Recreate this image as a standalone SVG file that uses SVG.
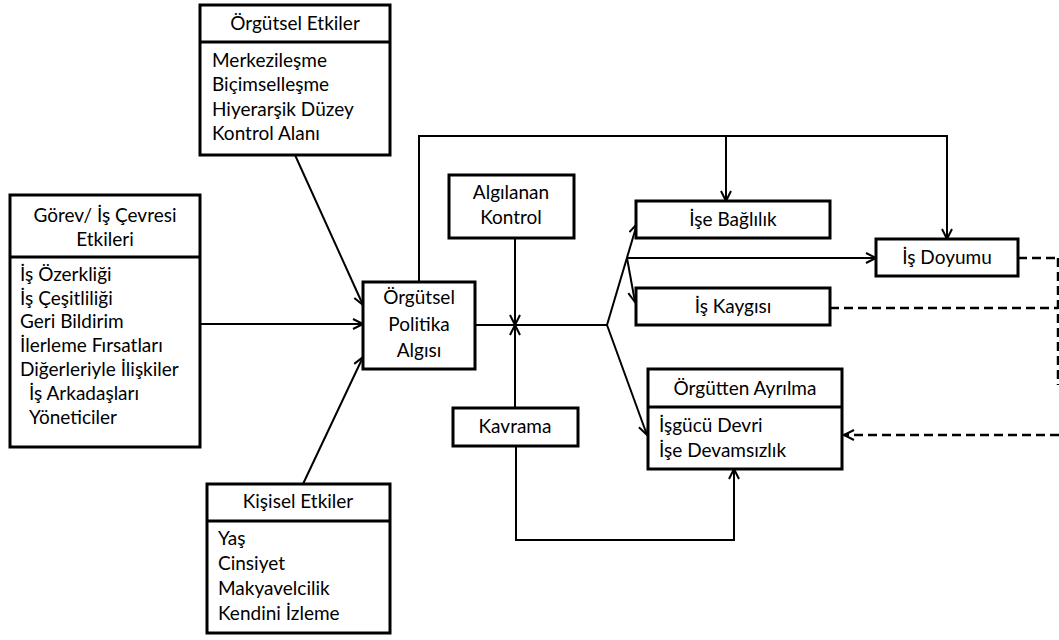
<svg xmlns="http://www.w3.org/2000/svg" width="1059" height="640" viewBox="0 0 1059 640">
<defs>
<marker id="arr" markerUnits="userSpaceOnUse" markerWidth="14" markerHeight="14" refX="11" refY="6" orient="auto">
<path d="M1,1 L11,6 L1,11" fill="none" stroke="#000" stroke-width="2"/>
</marker>
<style>
.box{fill:#fff;stroke:#000;stroke-width:3}
.div{stroke:#000;stroke-width:3}
text{font-family:Lato,"Open Sans","Liberation Sans",sans-serif;font-size:19px;fill:#000}
.c{text-anchor:middle}
.ln{fill:none;stroke:#000;stroke-width:2}
.dash{fill:none;stroke:#000;stroke-width:2.5;stroke-dasharray:9 5}
</style>
</defs>
<rect width="1059" height="640" fill="#fff"/>
<g id="connectors">
<line class="ln" x1="295" y1="155" x2="363" y2="305" marker-end="url(#arr)"/>
<line class="ln" x1="200" y1="324" x2="363" y2="324" marker-end="url(#arr)"/>
<line class="ln" x1="303" y1="484" x2="363" y2="357" marker-end="url(#arr)"/>
<line class="ln" x1="475" y1="325" x2="607" y2="325"/>
<line class="ln" x1="515" y1="238" x2="515" y2="325" marker-end="url(#arr)"/>
<line class="ln" x1="515" y1="408" x2="515" y2="325" marker-end="url(#arr)"/>
<line class="ln" x1="607" y1="325" x2="637" y2="224" marker-end="url(#arr)"/>
<line class="ln" x1="607" y1="325" x2="647" y2="435" marker-end="url(#arr)"/>
<line class="ln" x1="627" y1="258" x2="876" y2="258" marker-end="url(#arr)"/>
<line class="ln" x1="627" y1="258" x2="635" y2="302" marker-end="url(#arr)"/>
<polyline class="ln" points="419,282 419,136 947,136 947,239" marker-end="url(#arr)"/>
<line class="ln" x1="726" y1="136" x2="726" y2="201" marker-end="url(#arr)"/>
<polyline class="ln" points="516,446 516,540 734,540 734,469" marker-end="url(#arr)"/>
<line class="dash" x1="1018" y1="258" x2="1058" y2="258"/>
<line class="dash" x1="830" y1="308" x2="1058" y2="308"/>
<line class="dash" x1="1058" y1="258" x2="1058" y2="385"/>
<line class="dash" x1="1059" y1="435" x2="844" y2="435" marker-end="url(#arr)"/>
</g>
<g id="orgutsel-etkiler">
<rect class="box" x="200" y="5" width="190" height="150"/>
<line class="div" x1="200" y1="42" x2="390" y2="42"/>
<text class="c" x="295" y="30">Örgütsel Etkiler</text>
<text x="212" y="67">Merkezileşme</text>
<text x="212" y="91">Biçimselleşme</text>
<text x="212" y="116">Hiyerarşik Düzey</text>
<text x="212" y="140">Kontrol Alanı</text>
</g>
<g id="gorev-etkileri">
<rect class="box" x="10" y="195" width="190" height="252"/>
<line class="div" x1="10" y1="257" x2="200" y2="257"/>
<text class="c" x="105" y="222">Görev/ İş Çevresi</text>
<text class="c" x="105" y="246">Etkileri</text>
<text x="20" y="281">İş Özerkliği</text>
<text x="20" y="305">İş Çeşitliliği</text>
<text x="20" y="328">Geri Bildirim</text>
<text x="20" y="352">İlerleme Fırsatları</text>
<text x="20" y="376">Diğerleriyle İlişkiler</text>
<text x="29" y="400">İş Arkadaşları</text>
<text x="29" y="424">Yöneticiler</text>
</g>
<g id="kisisel-etkiler">
<rect class="box" x="207" y="484" width="183" height="149"/>
<line class="div" x1="207" y1="521" x2="390" y2="521"/>
<text class="c" x="298" y="508">Kişisel Etkiler</text>
<text x="218" y="545">Yaş</text>
<text x="218" y="570">Cinsiyet</text>
<text x="218" y="595">Makyavelcilik</text>
<text x="218" y="620">Kendini İzleme</text>
</g>
<g id="orgutsel-politika-algisi">
<rect class="box" x="363" y="282" width="112" height="87"/>
<text class="c" x="419" y="304">Örgütsel</text>
<text class="c" x="419" y="331">Politika</text>
<text class="c" x="419" y="357">Algısı</text>
</g>
<g id="algilanan-kontrol">
<rect class="box" x="449" y="175" width="125" height="63"/>
<text class="c" x="511" y="199">Algılanan</text>
<text class="c" x="511" y="224">Kontrol</text>
</g>
<g id="kavrama">
<rect class="box" x="453" y="408" width="125" height="38"/>
<text class="c" x="515" y="433">Kavrama</text>
</g>
<g id="ise-baglilik">
<rect class="box" x="636" y="201" width="194" height="37"/>
<text class="c" x="733" y="226">İşe Bağlılık</text>
</g>
<g id="is-doyumu">
<rect class="box" x="876" y="239" width="142" height="37"/>
<text class="c" x="947" y="264">İş Doyumu</text>
</g>
<g id="is-kaygisi">
<rect class="box" x="636" y="288" width="194" height="37"/>
<text class="c" x="733" y="313">İş Kaygısı</text>
</g>
<g id="orgutten-ayrilma">
<rect class="box" x="648" y="369" width="194" height="100"/>
<line class="div" x1="648" y1="407" x2="842" y2="407"/>
<text class="c" x="745" y="395">Örgütten Ayrılma</text>
<text x="659" y="432">İşgücü Devri</text>
<text x="659" y="457">İşe Devamsızlık</text>
</g>
</svg>
